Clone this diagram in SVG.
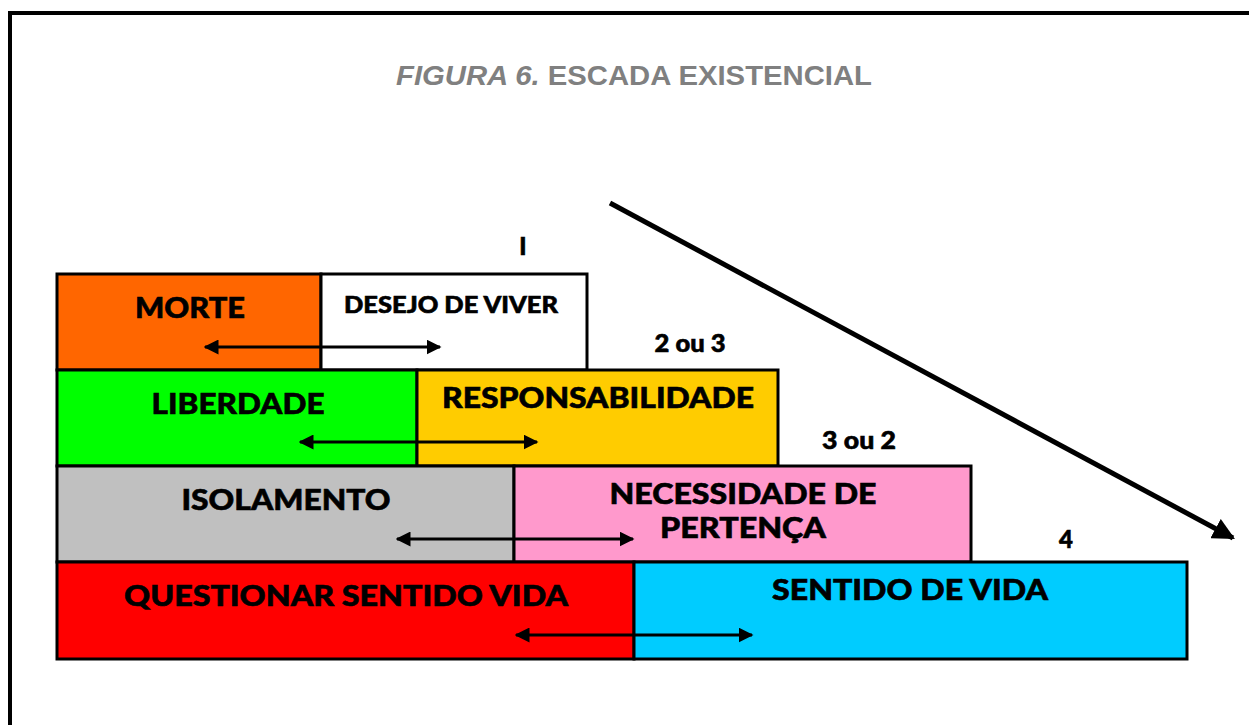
<svg xmlns="http://www.w3.org/2000/svg" width="1249" height="725" viewBox="0 0 1249 725">
<style>
.box{stroke:#000;stroke-width:3}
.lbl{font-family:Lato,"Open Sans","Liberation Sans",sans-serif;font-weight:900;fill:#000;stroke:#000;stroke-width:0.6;text-anchor:middle}
.big{font-size:29px}
.sm{font-size:23px}
.num{font-size:24px}
.arr{stroke:#000;stroke-width:3;fill:none;marker-start:url(#ah);marker-end:url(#ah)}
</style>
<defs>
<marker id="ah" viewBox="0 0 10 10" refX="9" refY="5" markerWidth="5" markerHeight="5" orient="auto-start-reverse" markerUnits="strokeWidth">
<path d="M0,0 L10,5 L0,10 z" fill="#000"/>
</marker>
<marker id="bh" viewBox="0 0 10 10" refX="9" refY="5" markerWidth="4.4" markerHeight="4.4" orient="auto" markerUnits="strokeWidth">
<path d="M0,0 L10,5 L0,10 z" fill="#000"/>
</marker>
</defs>
<rect width="1249" height="725" fill="#fff"/>
<path d="M10,740 V13 H1260" fill="none" stroke="#000" stroke-width="4"/>
<text x="634" y="85" font-family="'Liberation Sans',Arial,sans-serif" font-weight="bold" font-size="27" fill="#808080" text-anchor="middle" textLength="476" lengthAdjust="spacingAndGlyphs"><tspan font-style="italic">FIGURA 6.</tspan> ESCADA EXISTENCIAL</text>

<g id="morte"><rect class="box" x="57" y="274" width="264" height="96" fill="#FF6600"/><text class="lbl big" x="190" y="318" textLength="110" lengthAdjust="spacingAndGlyphs">MORTE</text></g>
<g id="desejo"><rect class="box" x="321" y="274" width="266" height="96" fill="#FFFFFF"/><text class="lbl sm" x="451" y="313" textLength="214" lengthAdjust="spacingAndGlyphs">DESEJO DE VIVER</text></g>
<g id="liberdade"><rect class="box" x="57" y="370" width="360" height="96" fill="#00FF00"/><text class="lbl big" x="238" y="414" textLength="173" lengthAdjust="spacingAndGlyphs">LIBERDADE</text></g>
<g id="responsabilidade"><rect class="box" x="417" y="370" width="361" height="96" fill="#FFCC00"/><text class="lbl big" x="598" y="408" textLength="312" lengthAdjust="spacingAndGlyphs">RESPONSABILIDADE</text></g>
<g id="isolamento"><rect class="box" x="57" y="466" width="457" height="96" fill="#C0C0C0"/><text class="lbl big" x="286" y="510" textLength="209" lengthAdjust="spacingAndGlyphs">ISOLAMENTO</text></g>
<g id="pertenca"><rect class="box" x="514" y="466" width="457" height="96" fill="#FF99CC"/><text class="lbl big" x="743" y="504" textLength="267" lengthAdjust="spacingAndGlyphs">NECESSIDADE DE</text><text class="lbl big" x="743" y="538" textLength="166" lengthAdjust="spacingAndGlyphs">PERTENÇA</text></g>
<g id="questionar"><rect class="box" x="57" y="562" width="577" height="97" fill="#FF0000"/><text class="lbl big" x="346" y="606" textLength="444" lengthAdjust="spacingAndGlyphs">QUESTIONAR SENTIDO VIDA</text></g>
<g id="sentido"><rect class="box" x="634" y="562" width="553" height="97" fill="#00CCFF"/><text class="lbl big" x="910" y="600" textLength="276" lengthAdjust="spacingAndGlyphs">SENTIDO DE VIDA</text></g>

<g id="numbers">
<text class="lbl num" x="523" y="255">I</text>
<text class="lbl num" x="690" y="352" textLength="71" lengthAdjust="spacingAndGlyphs">2 ou 3</text>
<text class="lbl num" x="859" y="449" textLength="74" lengthAdjust="spacingAndGlyphs">3 ou 2</text>
<text class="lbl num" x="1066" y="548">4</text>
</g>

<g id="connectors">
<line class="arr" x1="205" y1="347" x2="440" y2="347"/>
<line class="arr" x1="300" y1="442" x2="537" y2="442"/>
<line class="arr" x1="397" y1="539" x2="633" y2="539"/>
<line class="arr" x1="516" y1="635" x2="752" y2="635"/>
<line x1="610" y1="203" x2="1233" y2="538" stroke="#000" stroke-width="5" marker-end="url(#bh)"/>
</g>
</svg>
